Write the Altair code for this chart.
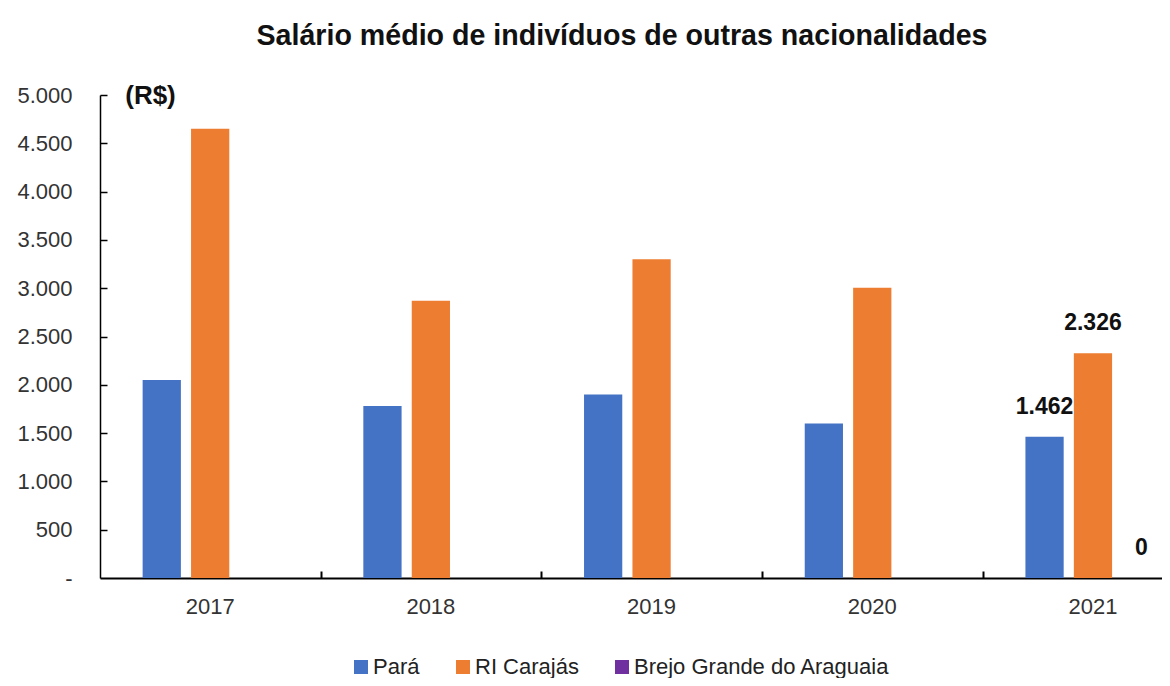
import altair as alt
import pandas as pd

years = ["2017", "2018", "2019", "2020", "2021"]
series = ["Pará", "RI Carajás", "Brejo Grande do Araguaia"]
para = [2050, 1780, 1900, 1600, 1462]
ri_carajas = [4650, 2870, 3300, 3005, 2326]
brejo = [0, 0, 0, 0, 0]
colors = ["#4472C4", "#ED7D31", "#7030A0"]
y_ticks = [0, 500, 1000, 1500, 2000, 2500, 3000, 3500, 4000, 4500, 5000]
label_year = "2021"

rows = []
for i, yr in enumerate(years):
    for s, vals in zip(series, [para, ri_carajas, brejo]):
        rows.append({"ano": yr, "serie": s, "valor": vals[i]})
df = pd.DataFrame(rows)

FONT = "Liberation Sans"

x_scale = alt.Scale(domain=years, paddingInner=0.388, paddingOuter=0.1, align=0.966)
y_scale = alt.Scale(domain=[0, 5000], nice=False)
off_scale = alt.Scale(domain=series, paddingInner=0.21, paddingOuter=0)
color_scale = alt.Scale(domain=series, range=colors)

bars = alt.Chart(df).mark_bar().encode(
    x=alt.X("ano:N", scale=x_scale, sort=years,
            axis=alt.Axis(title=None, labelAngle=0, labelFontSize=22, labelFont=FONT,
                          labelColor="#333333", ticks=False, domainColor="#000000",
                          domainWidth=2, labelPadding=18, orient="bottom")),
    xOffset=alt.XOffset("serie:N", scale=off_scale, sort=series),
    y=alt.Y("valor:Q", scale=y_scale,
            axis=alt.Axis(title="(R$)", titleAngle=0, titleX=50, titleY=0,
                          titleAlign="center", titleBaseline="middle",
                          titleFontSize=26, titleFont=FONT, titleFontWeight="bold",
                          titleColor="#111111",
                          values=y_ticks, grid=False, ticks=False,
                          labelPadding=28, labelFontSize=22, labelFont=FONT,
                          labelColor="#333333", domainColor="#000000", domainWidth=1.5,
                          labelExpr="datum.value == 0 ? '-' : replace(format(datum.value, ',.0f'), ',', '.')",
                          orient="left")),
    color=alt.Color("serie:N", scale=color_scale, sort=series,
                    legend=alt.Legend(title=None, orient="none", legendX=250, legendY=561,
                                      direction="horizontal", symbolType="square",
                                      symbolSize=196, labelFontSize=22, labelFont=FONT,
                                      labelColor="#222222", columnPadding=32,
                                      labelOffset=1, labelLimit=400, symbolStrokeWidth=0)),
)

labels = alt.Chart(df).transform_filter(
    alt.datum.ano == label_year
).transform_calculate(
    rotulo="replace(format(datum.valor, ',.0f'), ',', '.')"
).mark_text(fontSize=23, font=FONT, fontWeight="bold", color="#111111",
            baseline="middle", dy=-30).encode(
    x=alt.X("ano:N", scale=x_scale, sort=years,
            axis=alt.Axis(title=None, labels=False, domain=False, ticks=True,
                          tickSize=7, tickWidth=2, tickColor="#000000",
                          bandPosition=1, tickOffset=42.8, offset=-7, orient="bottom")),
    xOffset=alt.XOffset("serie:N", scale=off_scale, sort=series),
    y=alt.Y("valor:Q", scale=y_scale,
            axis=alt.Axis(title=None, labels=False, domain=False, ticks=True,
                          tickSize=7, tickWidth=1.5, tickColor="#000000",
                          values=y_ticks[1:], grid=False, offset=-7, orient="left")),
    text="rotulo:N",
)

chart = alt.layer(bars, labels).resolve_axis(x="independent", y="independent").properties(
    width=1062,
    height=483,
    padding={"left": 92, "top": 87, "right": 0, "bottom": 100},
    autosize=alt.AutoSizeParams(type="none"),
    title=alt.TitleParams("Salário médio de indivíduos de outras nacionalidades",
                          fontSize=28.6, font=FONT, fontWeight="bold", color="#111111",
                          anchor="middle", offset=31, dx=-9),
).configure_view(stroke=None)

chart.save("out.html", embed_options={"renderer": "svg", "actions": False})
